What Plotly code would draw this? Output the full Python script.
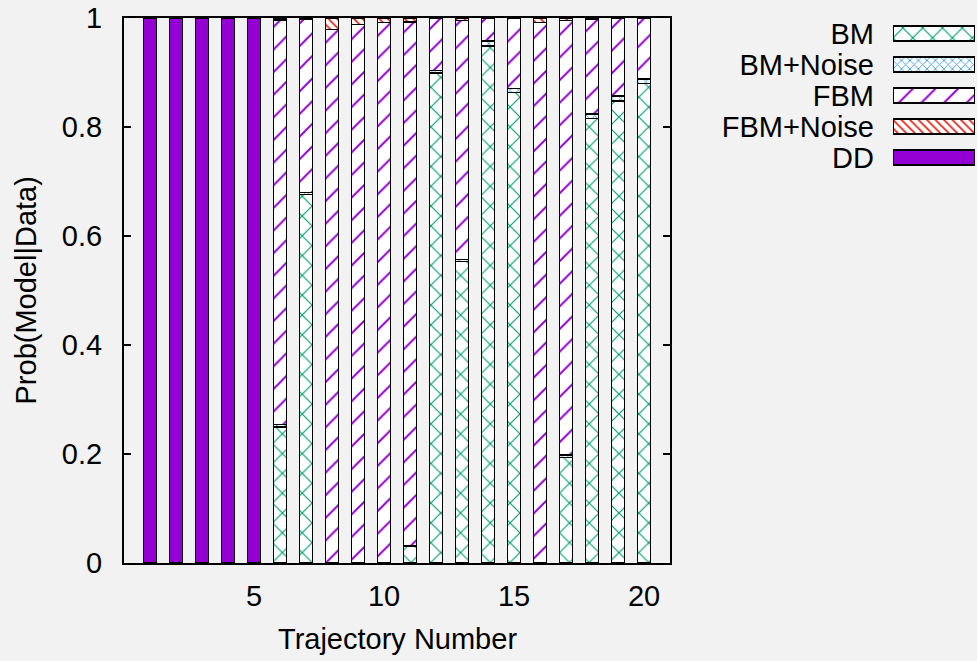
import plotly.graph_objects as go

# ---- data ----
trajectory = list(range(1, 21))
series_names = ["BM", "BM+Noise", "FBM", "FBM+Noise", "DD"]
bm =        [0, 0, 0, 0, 0, 0.250, 0.676, 0, 0, 0, 0.031, 0.899, 0.553, 0.949, 0.863, 0, 0.194, 0.816, 0.848, 0.880]
bm_noise =  [0, 0, 0, 0, 0, 0.004, 0.004, 0, 0, 0, 0, 0.005, 0.004, 0.009, 0.008, 0, 0.004, 0.008, 0.009, 0.008]
fbm =       [0, 0, 0, 0, 0, 0.742, 0.317, 0.979, 0.988, 0.992, 0.962, 0.096, 0.438, 0.042, 0.129, 0.992, 0.797, 0.173, 0.143, 0.112]
fbm_noise = [0, 0, 0, 0, 0, 0.002, 0.002, 0.021, 0.012, 0.008, 0.007, 0, 0.005, 0, 0, 0.008, 0.005, 0.003, 0, 0]
dd =        [1, 1, 1, 1, 1, 0.002, 0.001, 0, 0, 0, 0, 0, 0, 0, 0, 0, 0, 0, 0, 0]
x_tick_vals = [5, 10, 15, 20]
y_tick_vals = [0, 0.2, 0.4, 0.6, 0.8, 1]

values = [bm, bm_noise, fbm, fbm_noise, dd]

# ---- styles ----
FONT = "Liberation Sans, Arial, sans-serif"
FS = 29
BG = "#f2f2f2"
styles = [
    dict(color="white", pattern=dict(shape="x", fgcolor="#009e73", bgcolor="white", size=14, solidity=0.16, fgopacity=1)),
    dict(color="white", pattern=dict(shape="x", fgcolor="#3a9fe0", bgcolor="white", size=6, solidity=0.28, fgopacity=1)),
    dict(color="white", pattern=dict(shape="/", fgcolor="#9400d3", bgcolor="white", size=16, solidity=0.12, fgopacity=1)),
    dict(color="white", pattern=dict(shape="\\", fgcolor="#e51e10", bgcolor="white", size=6, solidity=0.28, fgopacity=1)),
    dict(color="#9400d3"),
]

fig = go.Figure()
for name, vals, st in zip(series_names, values, styles):
    fig.add_trace(go.Bar(
        x=trajectory, y=vals, name=name, width=0.5,
        marker=dict(**st, line=dict(color="black", width=1.5)),
        xaxis="x", yaxis="y", showlegend=False,
    ))

# key drawn as a tiny bar chart on its own axes (text left, swatch right, like gnuplot)
for name, st in zip(series_names, styles):
    fig.add_trace(go.Bar(
        x=[1], y=[name], orientation="h", width=0.5,
        marker=dict(**st, line=dict(color="black", width=1.8)),
        xaxis="x2", yaxis="y2", showlegend=False, hoverinfo="skip",
    ))

W, H = 977, 661
L, R, T, B = 124, 0, 18, 97.5
pw = W - L - R
ph = H - T - B
plot_right = 670

fig.update_layout(
    width=W, height=H,
    margin=dict(l=L, r=R, t=T, b=B, pad=0),
    paper_bgcolor=BG, plot_bgcolor=BG,
    barmode="stack",
    font=dict(family=FONT, size=FS, color="black"),
    xaxis=dict(
        domain=[0, (plot_right - L) / pw], range=[0, 21],
        tickmode="array", tickvals=x_tick_vals, ticks="",
        showline=True, mirror=True, linecolor="black", linewidth=2,
        showgrid=False, zeroline=False, ticklabelstandoff=6,
    ),
    yaxis=dict(
        domain=[0, 1], range=[0, 1],
        tickmode="array", tickvals=y_tick_vals,
        ticks="inside", ticklen=7, tickwidth=1.5, tickcolor="black",
        showline=True, mirror="ticks", linecolor="black", linewidth=2,
        showgrid=False, zeroline=False, ticklabelstandoff=14,
    ),
    xaxis2=dict(
        domain=[(893 - L) / pw, (975 - L) / pw], range=[0, 1],
        visible=False, anchor="y2",
    ),
    yaxis2=dict(
        domain=[1 - 155 / ph, 1], type="category",
        categoryorder="array", categoryarray=series_names, autorange="reversed",
        tickmode="array", tickvals=series_names, ticktext=series_names,
        anchor="x2", showline=False, showgrid=False, zeroline=False, ticks="",
        ticklabelstandoff=18,
    ),
    annotations=[
        dict(text="Trajectory Number", xref="paper", yref="paper",
             x=((L + plot_right) / 2 - L) / pw, y=(H - B - 640) / ph,
             xanchor="center", yanchor="middle", showarrow=False,
             font=dict(family=FONT, size=FS)),
        dict(text="Prob(Model|Data)", xref="paper", yref="paper",
             x=(25 - L) / pw, y=0.5, textangle=-90,
             xanchor="center", yanchor="middle", showarrow=False,
             font=dict(family=FONT, size=FS)),
    ],
)

fig.write_html(
    "out.html",
    config={"displayModeBar": False},
    post_script="document.body.style.margin='0';document.body.style.background='%s';" % BG,
)
